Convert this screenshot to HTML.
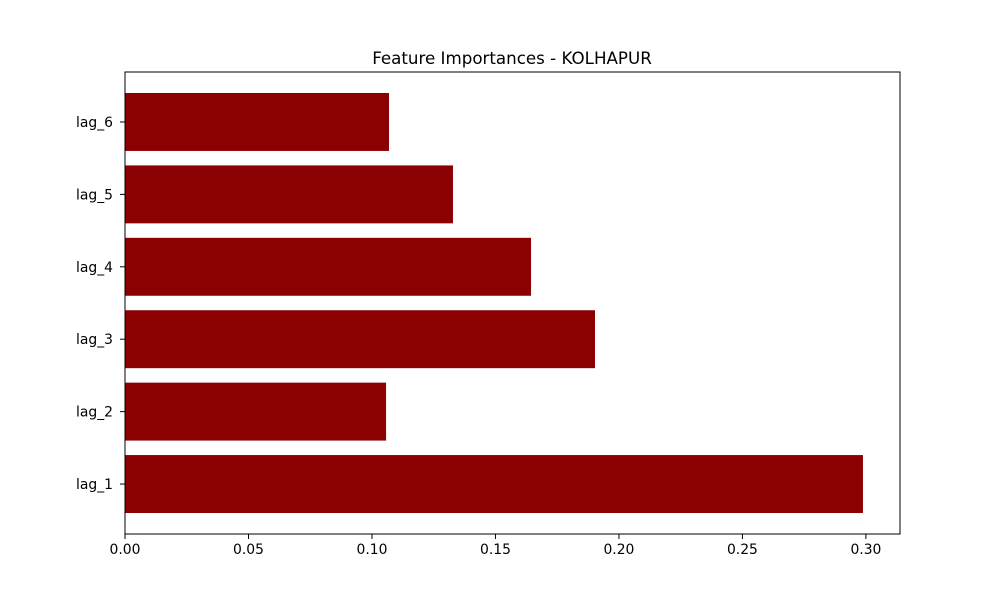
<!DOCTYPE html>
<html><head><meta charset="utf-8"><style>
html,body{margin:0;padding:0;background:#fff;}
svg{display:block;font-family:"DejaVu Sans","Liberation Sans",sans-serif;}
</style></head><body>
<svg id="chart" width="1000" height="600" viewBox="0 0 1000 600">
<rect x="0" y="0" width="1000" height="600" fill="#fff"/>
<text x="512" y="64" text-anchor="middle" font-size="16.7" fill="#000">Feature Importances - KOLHAPUR</text>
<g id="bars"></g>
<g id="xticks"></g>
<g id="yticks"></g>
<rect x="125" y="72" width="775" height="462" fill="none" stroke="#000" stroke-width="1"/>
</svg>
<script>
const categories = ["lag_1","lag_2","lag_3","lag_4","lag_5","lag_6"];
const importances = [0.2988,0.1057,0.1903,0.1644,0.1328,0.1069];
const xTickValues = [0,0.05,0.10,0.15,0.20,0.25,0.30];
const xTickLabels = ["0.00","0.05","0.10","0.15","0.20","0.25","0.30"];

const L=125,R=900,T=72,B=534;
const xMin=0,xMax=0.3138;
const yMin=-0.69,yMax=categories.length-1+0.69;
const xs=v=>L+(v-xMin)/(xMax-xMin)*(R-L);
const ys=i=>B-(i-yMin)/(yMax-yMin)*(B-T);
const unit=(B-T)/(yMax-yMin);
const NS="http://www.w3.org/2000/svg";
function mk(tag,attrs,parent){const e=document.createElementNS(NS,tag);for(const k in attrs)e.setAttribute(k,attrs[k]);parent.appendChild(e);return e;}

const bars=document.getElementById('bars');
categories.forEach((c,i)=>{
  const h=0.8*unit;
  const r=mk('rect',{x:xs(0),y:ys(i)-h/2,width:xs(importances[i])-xs(0),height:h,fill:'#8b0000'},bars);
  
  
});
const xt=document.getElementById('xticks');
xTickValues.forEach((v,i)=>{
  const x=xs(v);
  const l=mk('line',{x1:x,x2:x,y1:B,y2:B+5,stroke:'#000','stroke-width':1},xt);
  
  
  const t=mk('text',{x:x,y:B+20,'text-anchor':'middle','font-size':'13.9',fill:'#000'},xt);
  t.textContent=xTickLabels[i];
  
  
});
const yt=document.getElementById('yticks');
categories.forEach((c,i)=>{
  const y=ys(i);
  const l=mk('line',{x1:L-5,x2:L,y1:y,y2:y,stroke:'#000','stroke-width':1},yt);
  
  
  const t=mk('text',{x:L-12,y:y+5,'text-anchor':'end','font-size':'13.9',fill:'#000'},yt);
  t.textContent=c;
  
  
});
</script>
</body></html>
